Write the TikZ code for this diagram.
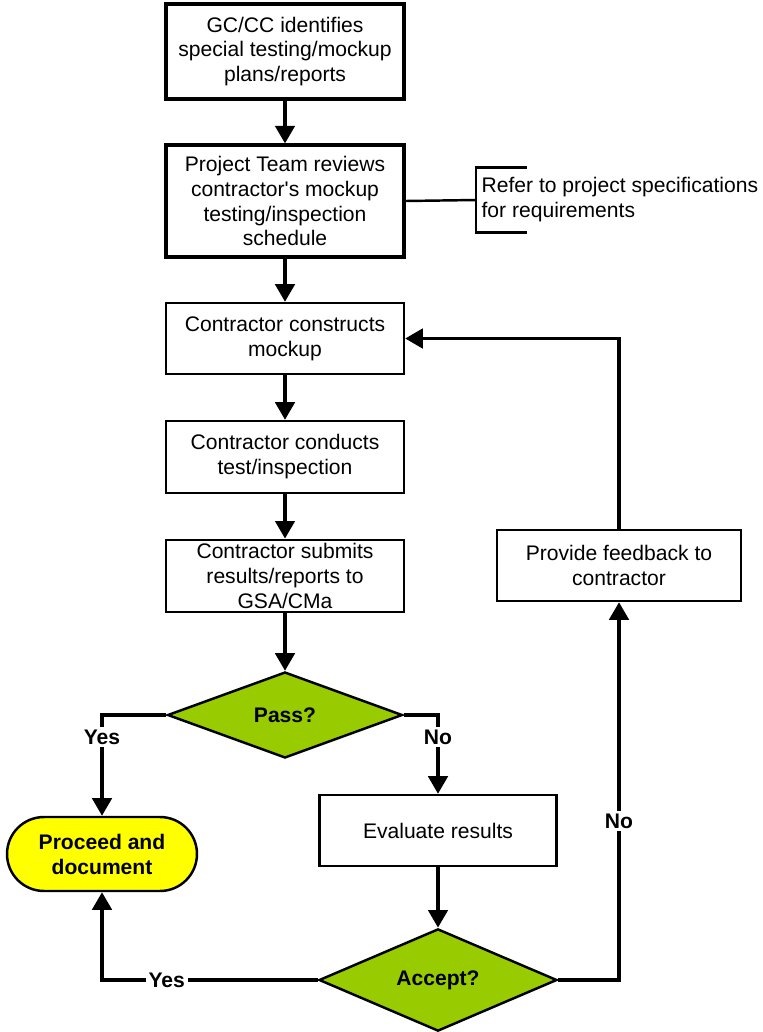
\documentclass[tikz,border=0pt]{standalone}
\usepackage{fontspec}
\setmainfont{Liberation Sans}
\usetikzlibrary{arrows.meta,shapes.geometric}
\definecolor{decgreen}{RGB}{153,204,0}
\definecolor{endyellow}{RGB}{255,255,0}
\tikzset{
  box/.style={draw, line width=1.4pt, fill=white, align=center, minimum width=4.76cm,
    inner sep=2pt, font=\fontsize{12}{14.2}\selectfont},
  bigbox/.style={box, line width=1.8pt},
  decision/.style={diamond, draw, line width=1.4pt, fill=decgreen, inner sep=0pt,
    font=\fontsize{12}{14.2}\selectfont\bfseries},
  terminal/.style={draw, line width=1.4pt, fill=endyellow, rounded corners=0.74cm, align=center,
    minimum width=3.8cm, minimum height=1.48cm, font=\fontsize{12}{14.2}\selectfont\bfseries},
  flow/.style={line width=2pt, -{Triangle[length=10pt,width=11pt]}},
  answer/.style={fill=white, inner sep=1.5pt, font=\fontsize{12}{12}\selectfont\bfseries},
}
\begin{document}
\begin{tikzpicture}[x=0.02cm, y=-0.02cm, line cap=butt, line join=miter]
  \useasboundingbox (0,0) rectangle (762,1032);
  % main column
  \node[bigbox, minimum height=1.9cm] (gc) at (285,51.5)
    {GC/CC identifies\\special testing/mockup\\plans/reports};
  \node[bigbox, minimum height=2.24cm] (team) at (285,201)
    {Project Team reviews\\contractor\textquotesingle s mockup\\testing/inspection\\schedule};
  \node[box, minimum height=1.42cm] (build) at (285,338.5)
    {Contractor constructs\\mockup};
  \node[box, minimum height=1.44cm] (conduct) at (285,457)
    {Contractor conducts\\test/inspection};
  \node[box, minimum height=1.44cm] (submit) at (285,576)
    {Contractor submits\\results/reports to\\GSA/CMa};
  \node[decision, minimum width=4.7cm, minimum height=1.72cm] (pass) at (285,715) {Pass?};
  \node[terminal] (done) at (102,854) {Proceed and\\document};
  \node[box, minimum width=4.74cm, minimum height=1.42cm] (eval) at (438,830.5)
    {Evaluate results};
  \node[decision, minimum width=4.76cm, minimum height=1.92cm] (accept) at (438,980) {Accept?};
  \node[box, minimum width=4.88cm, minimum height=1.42cm] (feedback) at (619,565.5)
    {Provide feedback to\\contractor};
  % side note
  \node[anchor=west, align=left, minimum height=1.28cm, inner xsep=3pt,
    font=\fontsize{12}{14.2}\selectfont] (note) at (476,200)
    {Refer to project specifications\\for requirements};
  \draw[line width=1.4pt] ([xshift=1.02cm]note.north west) -- (note.north west)
    -- (note.south west) -- ++(51,0);
  \draw[line width=1.4pt] (team.east) -- (note.west);
  % connectors
  \draw[flow] (gc) -- (team);
  \draw[flow] (team) -- (build);
  \draw[flow] (build) -- (conduct);
  \draw[flow] (conduct) -- (submit);
  \draw[flow] (submit) -- (pass);
  \draw[flow] (pass.west) -| node[answer, pos=0.61] {Yes} (done.north);
  \draw[flow] (pass.east) -| node[answer, pos=0.64] {No} (eval.north);
  \draw[flow] (eval) -- (accept);
  \draw[flow] (accept.west) -| node[answer, pos=0.35] {Yes} (done.south);
  \draw[flow] (accept.east) -| node[answer, pos=0.71] {No} (feedback.south);
  \draw[flow] (feedback.north) |- (build.east);
\end{tikzpicture}
\end{document}
